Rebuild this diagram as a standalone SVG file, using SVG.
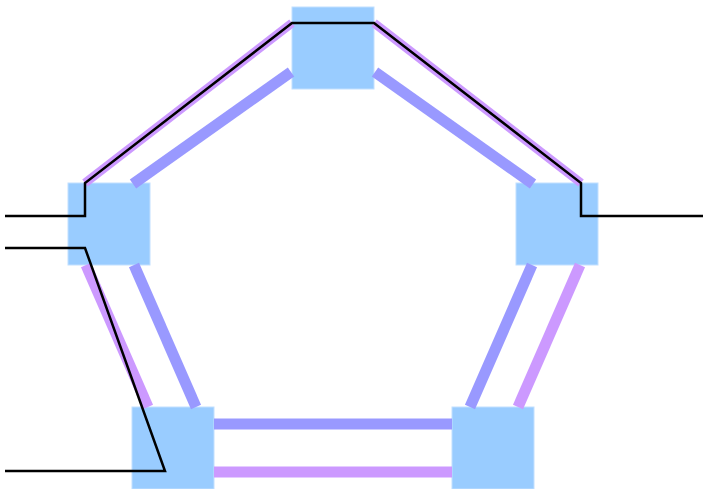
<svg xmlns="http://www.w3.org/2000/svg" width="703" height="489" viewBox="0 0 703 489">
<style>
.node{fill:#99ccff;stroke:#c2e0ff;stroke-width:1}
.blue{stroke:#9999ff;stroke-width:11;fill:none}
.purple{stroke:#cc99ff;stroke-width:11;fill:none}
.thin{stroke-width:9}
.wire{stroke:#000;stroke-width:2.5;fill:none}
</style>
<rect width="703" height="489" fill="#fff"/>
<g id="node-top"><rect class="node" x="292" y="7" width="82" height="82"/></g>
<g id="node-left"><rect class="node" x="68" y="183" width="82" height="82"/></g>
<g id="node-right"><rect class="node" x="516" y="183" width="82" height="82"/></g>
<g id="node-bottom-left"><rect class="node" x="132" y="407" width="82" height="82"/></g>
<g id="node-bottom-right"><rect class="node" x="452" y="407" width="82" height="82"/></g>
<g id="connectors">
<line class="purple thin" x1="85" y1="183" x2="292" y2="23"/>
<line class="purple thin" x1="374" y1="23" x2="581" y2="183"/>
<line class="blue" x1="133" y1="184" x2="291" y2="72"/>
<line class="blue" x1="375" y1="72" x2="533" y2="184"/>
<line class="purple" x1="86" y1="265" x2="148" y2="407"/>
<line class="blue" x1="134" y1="265" x2="196" y2="407"/>
<line class="blue" x1="532" y1="265" x2="470" y2="407"/>
<line class="purple" x1="580" y1="265" x2="518" y2="407"/>
<line class="blue" x1="214" y1="424" x2="452" y2="424"/>
<line class="purple" x1="214" y1="472" x2="452" y2="472"/>
<polyline class="wire" points="5,216 85,216 85,183 292,23 374,23 581,183 581,216 703,216"/>
<polyline class="wire" points="5,248 85,248 165,471 5,471"/>
</g>
</svg>
